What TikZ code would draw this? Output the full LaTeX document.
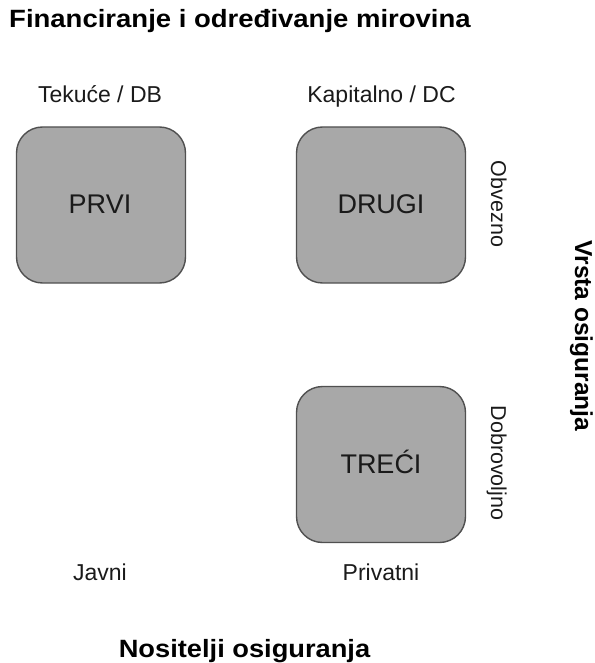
\documentclass[tikz,border=0pt]{standalone}
\usepackage{fontspec}
\setmainfont{Liberation Sans}
\usepackage{graphicx}
\definecolor{boxfill}{HTML}{A8A8A8}
\definecolor{boxline}{HTML}{505050}
\definecolor{txt}{HTML}{1A1A1A}
\begin{document}
\begin{tikzpicture}[x=1pt,y=-1pt,
  pillar/.style={draw=boxline, fill=boxfill, line width=1.4pt, rounded corners=26pt,
    minimum width=169pt, minimum height=156pt, inner sep=0pt},
  lbl/.style={font=\fontsize{23}{27}\selectfont, text=txt, inner sep=0pt, anchor=base},
  boxtxt/.style={font=\fontsize{27}{31}\selectfont, text=txt, inner sep=0pt, anchor=base},
  sidelbl/.style={font=\fontsize{21.5}{25}\selectfont, text=txt, inner sep=0pt, anchor=base, rotate=-90},
  heading/.style={text=black, inner sep=0pt}]
\useasboundingbox (0,0) rectangle (594,663);
% title
\node[heading, anchor=base west] (title) at (9,28)
  {\scalebox{1.1}[1]{\fontsize{25}{29}\selectfont\bfseries Financiranje i određivanje mirovina}};
% column labels
\node[lbl] (tekuce) at (100,103) {Tekuće / DB};
\node[lbl] (kapital) at (381.5,103) {Kapitalno / DC};
% boxes
\node[pillar] (prvi) at (101,205) {};
\node[pillar] (drugi) at (381,205) {};
\node[pillar] (treci) at (381,464.5) {};
\node[boxtxt] (prvit) at (100,213) {PRVI};
\node[boxtxt] (drugit) at (381,213) {DRUGI};
\node[boxtxt] (trecit) at (381,473) {TREĆI};
% side labels
\node[sidelbl] (obvezno) at (491,204) {Obvezno};
\node[sidelbl] (dobro) at (491,463) {Dobrovoljno};
\node[heading, anchor=base, rotate=-90] (vrsta) at (575,336)
  {\fontsize{24.5}{28}\selectfont\bfseries Vrsta osiguranja};
% bottom labels
\node[lbl] (javni) at (100,580) {Javni};
\node[lbl] (privatni) at (381,580) {Privatni};
\node[heading, anchor=base] (nositelji) at (244.5,657)
  {\scalebox{1.09}[1]{\fontsize{25}{29}\selectfont\bfseries Nositelji osiguranja}};
\end{tikzpicture}
\end{document}
